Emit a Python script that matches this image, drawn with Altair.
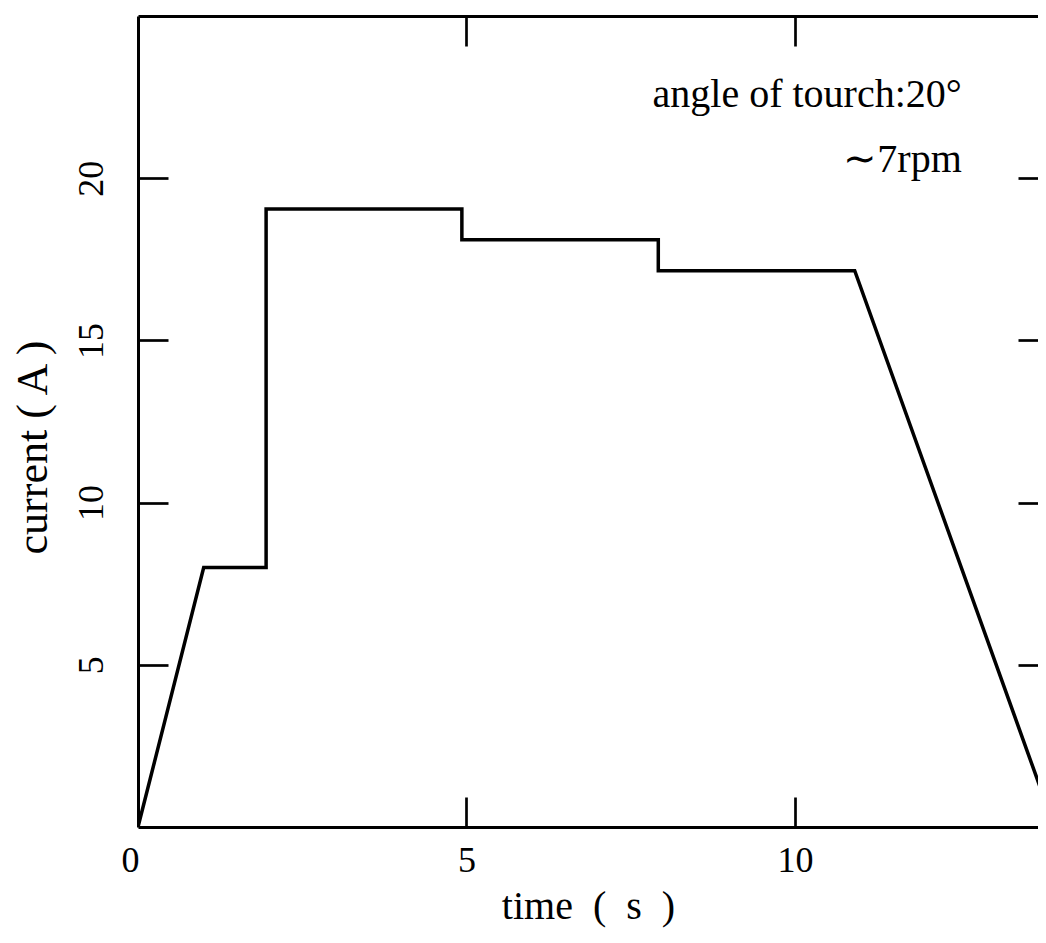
import altair as alt
import pandas as pd

# data
time_s = [0.0, 1.0, 1.95, 1.95, 4.93, 4.93, 7.92, 7.92, 10.91, 13.95]
current_a = [0.0, 8.0, 8.0, 19.05, 19.05, 18.1, 18.1, 17.15, 17.15, 0.0]
x_ticks = [0, 5, 10]
y_ticks = [5, 10, 15, 20]
note_text = ["angle of tourch:20°", "∼7rpm"]
note_x = [12.54, 12.54]
note_y = [22.2, 20.2]

df = pd.DataFrame({"t": time_s, "i": current_a, "k": list(range(len(time_s)))})
notes = pd.DataFrame({"x": note_x, "y": note_y, "txt": note_text})

FONT = "Liberation Serif"
xs = alt.Scale(domain=[0, 13.70], nice=False, zero=False)
ys = alt.Scale(domain=[0, 25], nice=False, zero=False)


def enc(chart, xaxis, yaxis):
    return chart.encode(
        x=alt.X("t:Q", scale=xs, axis=xaxis),
        y=alt.Y("i:Q", scale=ys, axis=yaxis),
        order="k:O",
    )


main = enc(
    alt.Chart(df).mark_line(color="black", strokeWidth=3.5, clip=True),
    alt.Axis(
        orient="bottom", values=x_ticks, ticks=False, domain=True,
        domainColor="black", domainWidth=3, grid=False,
        labelFont=FONT, labelFontSize=36, labelColor="black", labelPadding=16,
        labelOffset={"condition": {"test": "datum.value == 0", "value": -17}, "value": 0},
        title="time\u2002(\u2002s\u2002)", titleFont=FONT, titleFontSize=40,
        titleFontWeight="normal", titleColor="black",
        titleBaseline="alphabetic", titleY=91,
    ),
    alt.Axis(
        orient="left", values=y_ticks, ticks=False, domain=True,
        domainColor="black", domainWidth=3, grid=False,
        labelFont=FONT, labelFontSize=36, labelColor="black",
        labelAngle=270, labelPadding=28,
        title="current ( A )", titleFont=FONT, titleFontSize=44,
        titleFontWeight="normal", titleColor="black",
        titleAngle=270, titleBaseline="alphabetic", titleAlign="center",
        titleX=-92, titleY=431,
    ),
)

tick_kw = dict(domain=False, labels=False, title=None, grid=False,
               tickColor="black", tickWidth=2.7)

inner_bl = enc(
    alt.Chart(df).mark_line(opacity=0),
    alt.Axis(orient="bottom", values=[5, 10], offset=-30, tickSize=30, **tick_kw),
    alt.Axis(orient="left", values=y_ticks, offset=-30, tickSize=30, **tick_kw),
)

inner_tr = enc(
    alt.Chart(df).mark_line(opacity=0),
    alt.Axis(orient="top", ticks=False, domain=True, domainColor="black",
             domainWidth=3, labels=False, title=None, grid=False),
    alt.Axis(orient="right", values=y_ticks, offset=-20, tickSize=20, **tick_kw),
)

inner_top = enc(
    alt.Chart(df).mark_line(opacity=0),
    alt.Axis(orient="top", values=[5, 10], offset=-30, tickSize=30, **tick_kw),
    None,
)

note_layer = alt.Chart(notes).mark_text(
    font=FONT, fontSize=40, color="black", align="right", baseline="alphabetic"
).encode(
    x=alt.X("x:Q", scale=xs, axis=None),
    y=alt.Y("y:Q", scale=ys, axis=None),
    text="txt:N",
)

chart = (
    alt.layer(main, inner_bl, inner_tr, inner_top, note_layer)
    .resolve_axis(x="independent", y="independent")
    .properties(
        width=900, height=811,
        autosize=alt.AutoSizeParams(type="none"),
        padding={"left": 130, "top": 8, "right": 0, "bottom": 102},
    )
    .configure_view(stroke=None)
    .configure(background="white")
)

chart.save("out.html", embed_options={"renderer": "svg", "actions": False})
